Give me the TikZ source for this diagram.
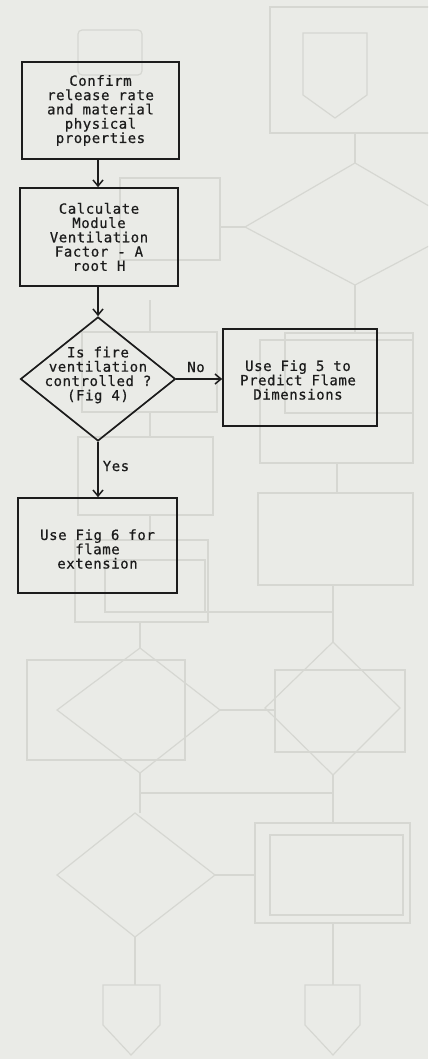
\documentclass[tikz,border=0pt]{standalone}
\usepackage{fontspec}
\usetikzlibrary{arrows.meta,shapes.geometric}
\newfontfamily\dotmono[LetterSpace=4,FakeBold=0.6]{DejaVu Sans Mono}
\definecolor{paper}{HTML}{EAEBE7}
\definecolor{ghost}{HTML}{D6D7D2}
\definecolor{ink}{HTML}{1C1C1C}
\tikzset{
  flowbox/.style={draw=ink, line width=1.7pt, rectangle, inner sep=0pt},
  flowtext/.style={align=center, text=ink, inner sep=0pt, font=\dotmono\fontsize{14}{14.3}\selectfont},
  flowlabel/.style={text=ink, inner sep=0pt, font=\dotmono\fontsize{14}{14.3}\selectfont},
  flowarrow/.style={draw=ink, line width=1.7pt, -{Straight Barb[length=6pt,width=10pt,line width=1.5pt]}},
  ghostline/.style={draw=ghost, line width=1.2pt},
}
\begin{document}
\begin{tikzpicture}[x=1pt,y=-1pt]
\fill[paper] (0,0) rectangle (428,1059);
\useasboundingbox (0,0) rectangle (428,1059);
\clip (0,0) rectangle (428,1059);
% faint show-through from the facing page
\begin{scope}[ghostline]
\draw (270,7) rectangle (440,133);
\draw[rounded corners=4pt] (78,30) rectangle (142,75);
\draw (303,33) -- (367,33) -- (367,95) -- (335,118) -- (303,95) -- cycle;
\draw (355,133) -- (355,163);
\draw (355,163) -- (465,227) -- (355,285) -- (245,227) -- cycle;
\draw (245,227) -- (220,227);
\draw (120,178) rectangle (220,260);
\draw (355,285) -- (355,333);
\draw (285,333) rectangle (413,413);
\draw (260,340) rectangle (413,463);
\draw (337,463) -- (337,493);
\draw (258,493) rectangle (413,585);
\draw (150,300) -- (150,332);
\draw (82,332) rectangle (217,412);
\draw (150,412) -- (150,437);
\draw (78,437) rectangle (213,515);
\draw (150,515) -- (150,540);
\draw (75,540) rectangle (208,622);
\draw (105,560) rectangle (205,612);
\draw (105,612) -- (333,612);
\draw (140,622) -- (140,648);
\draw (27,660) rectangle (185,760);
\draw (140,648) -- (220,710) -- (140,773) -- (57,710) -- cycle;
\draw (220,710) -- (275,710);
\draw (333,585) -- (333,642);
\draw (333,642) -- (400,708) -- (333,775) -- (265,708) -- cycle;
\draw (275,670) rectangle (405,752);
\draw (140,773) -- (140,813);
\draw (333,775) -- (333,823);
\draw (140,793) -- (333,793);
\draw (135,813) -- (215,875) -- (135,937) -- (57,875) -- cycle;
\draw (215,875) -- (255,875);
\draw (255,823) rectangle (410,923);
\draw (270,835) rectangle (403,915);
\draw (135,937) -- (135,985);
\draw (333,923) -- (333,985);
\draw (103,985) -- (160,985) -- (160,1025) -- (131,1055) -- (103,1025) -- cycle;
\draw (305,985) -- (360,985) -- (360,1025) -- (333,1055) -- (305,1025) -- cycle;
\end{scope}
% main flowchart
\node[flowbox, minimum width=157pt, minimum height=97pt] (confirm) at (100.5,110.5) {};
\node[flowtext] at (confirm) {Confirm\\release rate\\and material\\physical\\properties};
\node[flowbox, minimum width=158pt, minimum height=98pt] (calc) at (99,237) {};
\node[flowtext] at (calc) {Calculate\\Module\\Ventilation\\Factor - A\\root H};
\node[diamond, draw=ink, line width=1.7pt, inner sep=0pt, minimum width=155pt, minimum height=124pt] (vent) at (98,379) {};
\node[flowtext] at (98,375) {Is fire\\ventilation\\controlled ?\\(Fig 4)};
\node[flowbox, minimum width=154pt, minimum height=97pt] (fig5) at (300,377.5) {};
\node[flowtext] at (298,380) {Use Fig 5 to\\Predict Flame\\Dimensions};
\node[flowbox, minimum width=159pt, minimum height=95pt] (fig6) at (97.5,545.5) {};
\node[flowtext] at (97.5,549) {Use Fig 6 for\\flame\\extension};
\draw[flowarrow] (confirm.south -| 98,0) -- (calc.north -| 98,0);
\draw[flowarrow] (calc.south -| 98,0) -- (vent.north);
\draw[flowarrow] (vent.east) -- (fig5.west |- vent.east);
\draw[flowarrow] (vent.south) -- (fig6.north -| vent.south);
\node[flowlabel] (nolabel) at (196,367) {No};
\node[flowlabel] (yeslabel) at (116,466) {Yes};
\end{tikzpicture}
\end{document}
